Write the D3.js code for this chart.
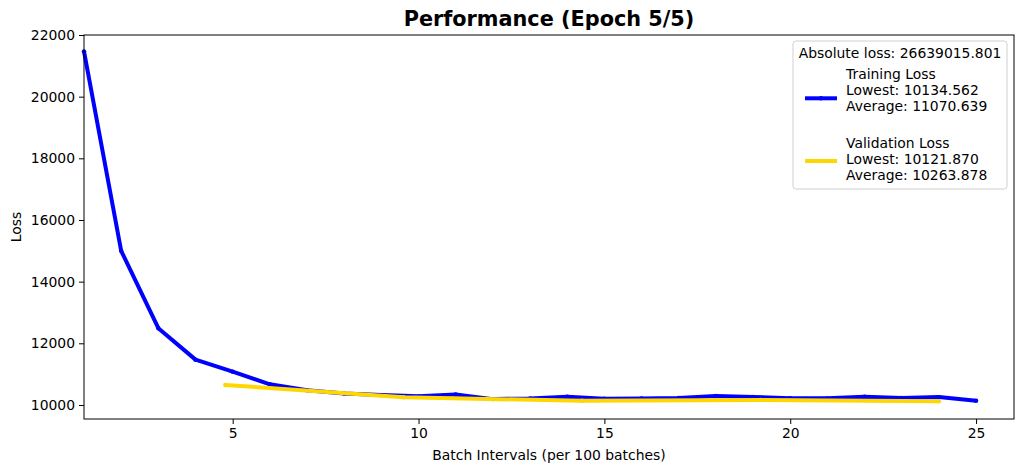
<!DOCTYPE html>
<html>
<head>
<meta charset="utf-8">
<script src="https://cdn.jsdelivr.net/npm/d3@7"></script>
<style>
  body { margin: 0; background: #fff; }
  svg text { font-family: "DejaVu Sans", sans-serif; fill: #000; }
</style>
</head>
<body>
<svg id="chart" width="1023" height="472"></svg>
<script>
// training loss, one point per batch interval
var trainX = [1, 2, 3, 4, 5, 6, 7, 8, 9, 10, 11, 12, 13, 14, 15, 16, 17, 18, 19, 20, 21, 22, 23, 24, 25];
var trainLoss = [21470, 15000, 12490, 11470, 11080, 10670, 10480, 10370, 10320, 10280, 10340, 10190, 10210, 10270, 10200, 10210, 10230, 10290, 10260, 10220, 10215, 10270, 10230, 10255, 10134.562];

// validation loss, one point per epoch
var valX = [4.8, 9.6, 14.4, 19.2, 24.0];
var valLoss = [10650, 10250, 10135, 10163, 10121.87];

var xTicks = [5, 10, 15, 20, 25];
var yTicks = [10000, 12000, 14000, 16000, 18000, 20000, 22000];

var legendTitle = 'Absolute loss: 26639015.801';
var legendItems = [
  { lines: ['Training Loss', 'Lowest: 10134.562', 'Average: 11070.639'], color: '#0000ff', handleY: 57.3 },
  { lines: ['Validation Loss', 'Lowest: 10121.870', 'Average: 10263.878'], color: '#ffd700', handleY: 120 }
];

var margin = { left: 84, right: 1014, top: 35, bottom: 419 };
var fontSize = 13.9;
var lineWidth = 4;

var svg = d3.select('#chart');

var x = d3.scaleLinear().domain([1, 26.02]).range([margin.left, margin.right]);
var y = d3.scaleLinear().domain([9545, 22000]).range([margin.bottom, margin.top]);

function zip(xs, ys) {
  return xs.map(function (d, i) { return [d, ys[i]]; });
}

function drawSeries(points, color) {
  var line = d3.line().x(function (d) { return x(d[0]); }).y(function (d) { return y(d[1]); });
  svg.append('path')
    .attr('d', line(points))
    .attr('fill', 'none')
    .attr('stroke', color)
    .attr('stroke-width', lineWidth)
    .attr('stroke-linejoin', 'round');
  svg.selectAll(null).data(points).enter().append('circle')
    .attr('cx', function (d) { return x(d[0]); })
    .attr('cy', function (d) { return y(d[1]); })
    .attr('r', 2.2)
    .attr('fill', color);
}

drawSeries(zip(trainX, trainLoss), '#0000ff');
drawSeries(zip(valX, valLoss), '#ffd700');

// axes
var xAxis = d3.axisBottom(x).tickValues(xTicks).tickSize(5).tickPadding(4).tickFormat(d3.format('d'));
var yAxis = d3.axisLeft(y).tickValues(yTicks).tickSize(5).tickPadding(4).tickFormat(d3.format('d'));

var gx = svg.append('g').attr('transform', 'translate(0,' + margin.bottom + ')').call(xAxis);
var gy = svg.append('g').attr('transform', 'translate(' + margin.left + ',0)').call(yAxis);
[gx, gy].forEach(function (g) {
  g.select('.domain').remove();
  g.selectAll('text').attr('font-size', fontSize).attr('font-family', 'DejaVu Sans');
  g.selectAll('line').attr('stroke', '#000').attr('stroke-width', 1);
});

svg.append('rect')
  .attr('x', margin.left).attr('y', margin.top)
  .attr('width', margin.right - margin.left).attr('height', margin.bottom - margin.top)
  .attr('fill', 'none').attr('stroke', '#000').attr('stroke-width', 1);

// labels
svg.append('text').attr('x', 549).attr('y', 26).attr('text-anchor', 'middle')
  .attr('font-size', 20.8).attr('font-weight', 'bold').text('Performance (Epoch 5/5)');
svg.append('text').attr('x', 549).attr('y', 460).attr('text-anchor', 'middle')
  .attr('font-size', fontSize).text('Batch Intervals (per 100 batches)');
svg.append('text').attr('transform', 'translate(21,227) rotate(-90)').attr('text-anchor', 'middle')
  .attr('font-size', fontSize).text('Loss');

// legend
var lg = svg.append('g').attr('transform', 'translate(793,41)');
lg.append('rect').attr('width', 214).attr('height', 148).attr('rx', 3)
  .attr('fill', '#fff').attr('fill-opacity', 0.8).attr('stroke', '#d0d0d0');
lg.append('text').attr('x', 107).attr('y', 17).attr('text-anchor', 'middle')
  .attr('font-size', fontSize).text(legendTitle);

legendItems.forEach(function (item, i) {
  var top = 33.3 + i * 69;
  item.lines.forEach(function (t, j) {
    lg.append('text').attr('x', 53).attr('y', top + j * 15.7 + 5).attr('font-size', fontSize).text(t);
  });
  lg.append('line').attr('x1', 12).attr('x2', 44).attr('y1', item.handleY).attr('y2', item.handleY)
    .attr('stroke', item.color).attr('stroke-width', lineWidth);
  lg.append('circle').attr('cx', 28).attr('cy', item.handleY).attr('r', 2.2).attr('fill', item.color);
});
</script>
</body>
</html>
